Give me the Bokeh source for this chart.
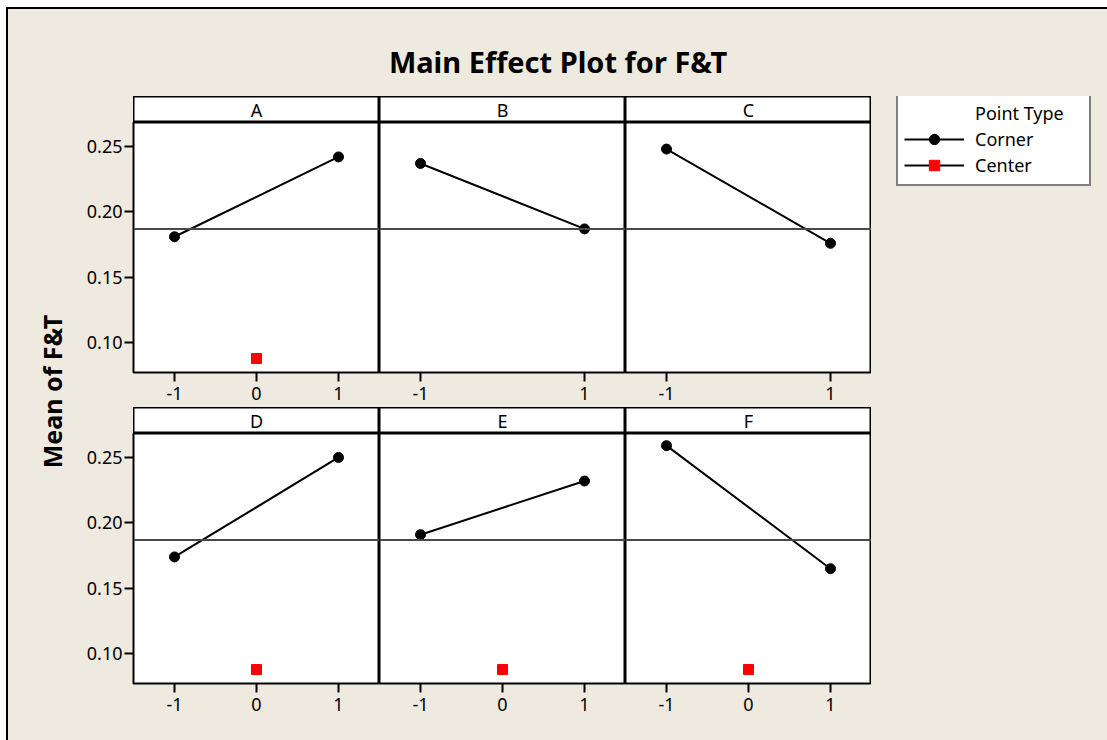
import math
from bokeh.plotting import figure
from bokeh.layouts import row, column, Spacer
from bokeh.models import (Range1d, FixedTicker, Span, Label, Legend, LegendItem,
                          PrintfTickFormatter)
from bokeh.embed import file_html
from bokeh.resources import INLINE

# ---------------- data ----------------
factors = ["A", "B", "C", "D", "E", "F"]
corner_levels = [-1, 1]
corner_low = [0.181, 0.237, 0.248, 0.174, 0.191, 0.259]    # mean at level -1
corner_high = [0.242, 0.187, 0.176, 0.250, 0.232, 0.165]   # mean at level +1
center_level = 0
center_mean = [0.088, None, None, 0.088, 0.088, 0.088]
grand_mean = 0.187
x_ticks_center = [-1, 0, 1]
x_ticks_corner = [-1, 1]
y_ticks = [0.10, 0.15, 0.20, 0.25]
title_text = "Main Effect Plot for F&T"
ylabel_text = "Mean of F&T"
legend_title = "Point Type"
legend_labels = ["Corner", "Center"]

# ---------------- style ----------------
BG = "#EEEAE0"
FONT = "Noto Sans"
PANEL_W = 246
FRAME_H = 250
LEFT_AX = 55
Y_RANGE = (0.0773, 0.2683)
X_RANGE = (-1.5, 1.5)
NAN = float("nan")


def base_fig(width, height, xr, yr, **kw):
    p = figure(width=width, height=height, x_range=Range1d(*xr), y_range=Range1d(*yr),
               output_backend="svg", toolbar_location=None, **kw)
    p.border_fill_color = BG
    p.xgrid.visible = False
    p.ygrid.visible = False
    return p


def make_strip(name, width):
    p = base_fig(width, 26, X_RANGE, (0, 1), x_axis_location=None, y_axis_location=None,
                 min_border_left=width - PANEL_W, min_border_right=0,
                 min_border_top=0, min_border_bottom=0)
    p.background_fill_color = "white"
    p.outline_line_color = "black"
    p.outline_line_width = 2
    p.add_layout(Label(x=0, y=0.5, text=name, text_align="center", text_baseline="middle",
                       text_font=FONT, text_font_size="18px", text_color="black"))
    return p


def make_panel(i, left_axis, bottom_border):
    width = PANEL_W + (LEFT_AX if left_axis else 0)
    p = base_fig(width, FRAME_H + bottom_border, X_RANGE, Y_RANGE,
                 x_axis_location="below", y_axis_location="left" if left_axis else None,
                 min_border_left=LEFT_AX if left_axis else 0, min_border_right=0,
                 min_border_top=0, min_border_bottom=bottom_border)
    p.background_fill_color = "white"
    p.outline_line_color = "black"
    p.outline_line_width = 2

    ticks = x_ticks_center if center_mean[i] is not None else x_ticks_corner
    p.xaxis.ticker = FixedTicker(ticks=ticks)
    p.xaxis.major_label_overrides = {t: str(t) for t in ticks}
    axes = list(p.xaxis) + (list(p.yaxis) if left_axis else [])
    if left_axis:
        p.yaxis.ticker = FixedTicker(ticks=y_ticks)
        p.yaxis.formatter = PrintfTickFormatter(format="%.2f")
    for ax in axes:
        ax.axis_line_color = None
        ax.major_tick_in = 0
        ax.major_tick_out = 9
        ax.major_tick_line_color = "black"
        ax.major_tick_line_width = 2
        ax.minor_tick_line_color = None
        ax.major_label_text_font = FONT
        ax.major_label_text_font_size = "18px"
        ax.major_label_text_color = "black"
    p.xaxis.major_label_standoff = 5
    if left_axis:
        p.yaxis.major_label_standoff = 2

    p.add_layout(Span(location=grand_mean, dimension="width", line_color="#484848",
                      line_width=2))
    p.line(corner_levels, [corner_low[i], corner_high[i]], line_color="black", line_width=2)
    p.scatter(corner_levels, [corner_low[i], corner_high[i]], marker="circle", size=10,
              fill_color="black", line_color="black")
    if center_mean[i] is not None:
        p.scatter([center_level], [center_mean[i]], marker="square", size=10,
                  fill_color="red", line_color="red")
    return p


# ---------------- overall geometry ----------------
TOTAL_W = 1099          # beige area: x 8 -> 1107
TOTAL_H = 731           # beige area: y 9 -> 740
TITLE_H = 87
BODY_H = TOTAL_H - TITLE_H

# ---------------- title ----------------
title_fig = base_fig(TOTAL_W, TITLE_H, (0, TOTAL_W), (0, TITLE_H),
                     x_axis_location=None, y_axis_location=None,
                     min_border_left=0, min_border_right=0, min_border_top=0, min_border_bottom=0)
title_fig.background_fill_color = BG
title_fig.outline_line_color = None
title_fig.add_layout(Label(x=TOTAL_W / 2, y=TITLE_H - (61 - 9), text=title_text,
                           text_align="center", text_baseline="middle", text_font=FONT,
                           text_font_size="29px", text_font_style="bold", text_color="black"))

# ---------------- y label ----------------
YL_W = 70
ylabel_fig = base_fig(YL_W, BODY_H, (0, YL_W), (0, BODY_H),
                      x_axis_location=None, y_axis_location=None,
                      min_border_left=0, min_border_right=0, min_border_top=0, min_border_bottom=0)
ylabel_fig.background_fill_color = BG
ylabel_fig.outline_line_color = None
ylabel_fig.add_layout(Label(x=43, y=BODY_H - (391 - 96), text=ylabel_text, angle=math.pi / 2,
                            text_align="center", text_baseline="middle", text_font=FONT,
                            text_font_size="25px", text_font_style="bold", text_color="black"))

# ---------------- panels ----------------
top_strips = row(Spacer(width=LEFT_AX, height=26),
                 *[make_strip(factors[i], PANEL_W) for i in range(3)])
top_panels = row(*[make_panel(i, i == 0, 35) for i in range(3)])
bot_strips = row(Spacer(width=LEFT_AX, height=26),
                 *[make_strip(factors[i], PANEL_W) for i in range(3, 6)])
bot_panels = row(*[make_panel(i, i == 3, 57) for i in range(3, 6)])
panels = column(top_strips, top_panels, bot_strips, bot_panels)

# ---------------- legend ----------------
LG_W = TOTAL_W - YL_W - LEFT_AX - 3 * PANEL_W
lg = base_fig(LG_W, BODY_H, (0, LG_W), (0, BODY_H),
              x_axis_location=None, y_axis_location=None,
              min_border_left=0, min_border_right=0, min_border_top=0, min_border_bottom=0)
lg.background_fill_color = BG
lg.outline_line_color = None
hdr = lg.line([NAN], [NAN], line_alpha=0)
l1 = lg.line([NAN], [NAN], line_color="black", line_width=2)
s1 = lg.scatter([NAN], [NAN], marker="circle", fill_color="black", line_color="black")
l2 = lg.line([NAN], [NAN], line_color="black", line_width=2)
s2 = lg.scatter([NAN], [NAN], marker="square", fill_color="red", line_color="red")
legend = Legend(items=[LegendItem(label=legend_title, renderers=[hdr]),
                       LegendItem(label=legend_labels[0], renderers=[l1, s1]),
                       LegendItem(label=legend_labels[1], renderers=[l2, s2])],
                location=(25, BODY_H - (186 - 96)),
                padding=6, spacing=0, margin=0,
                glyph_width=60, glyph_height=26, label_standoff=11, label_width=108,
                label_height=26,
                label_text_font=FONT, label_text_font_size="18px", label_text_color="black",
                border_line_color="black", border_line_width=2,
                background_fill_color="white", background_fill_alpha=1.0)
lg.add_layout(legend)

content = column(title_fig, row(ylabel_fig, panels, lg),
                 styles={"background-color": BG, "outline": "2px solid black"})
page = row(Spacer(width=8, height=TOTAL_H), column(Spacer(width=TOTAL_W, height=9), content))

open("out.html", "w").write(file_html(page, INLINE))
